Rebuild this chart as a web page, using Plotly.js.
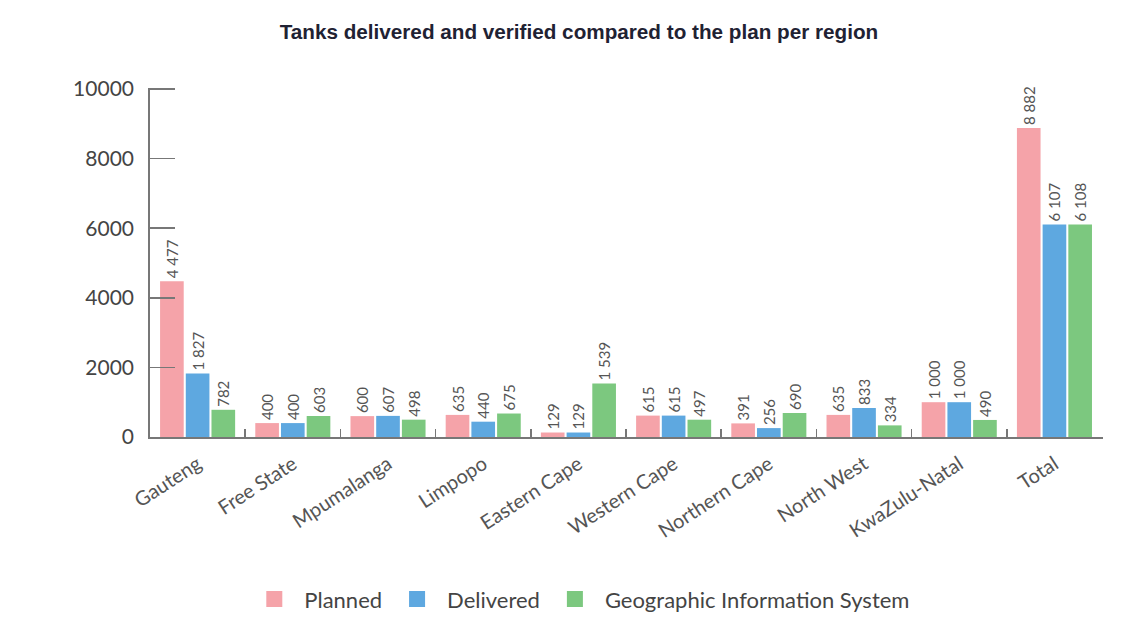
<!DOCTYPE html>
<html>
<head>
<meta charset="utf-8">
<script src="https://cdn.plot.ly/plotly-3.0.1.min.js"></script>
<style>html,body{margin:0;padding:0;background:#fff;}#chart{width:1133px;height:617px;}</style>
</head>
<body>
<div id="chart"></div>
<script>
const categories = ["Gauteng","Free State","Mpumalanga","Limpopo","Eastern Cape","Western Cape","Northern Cape","North West","KwaZulu-Natal","Total"];
const planned = [4477, 400, 600, 635, 129, 615, 391, 635, 1000, 8882];
const delivered = [1827, 400, 607, 440, 129, 615, 256, 833, 1000, 6107];
const gis = [782, 603, 498, 675, 1539, 497, 690, 334, 490, 6108];
const seriesNames = ["Planned", "Delivered", "Geographic Information System"];
const seriesColors = ["#F5A3A9", "#5EA8E0", "#7CC87F"];
const yTicks = [0, 2000, 4000, 6000, 8000, 10000];

function fmt(v) {
  return String(v).replace(/\B(?=(\d{3})+(?!\d))/g, " ");
}

const font = "Lato, 'Open Sans', sans-serif";
const barTraces = [planned, delivered, gis].map((vals, i) => ({
  type: "bar",
  name: seriesNames[i],
  x: categories,
  y: vals,
  text: vals.map(fmt),
  textposition: "outside",
  textangle: -90,
  constraintext: "none",
  cliponaxis: false,
  textfont: {family: font, size: 15, color: "#555"},
  marker: {color: seriesColors[i], line: {width: 0}},
  showlegend: false,
  hoverinfo: "x+y"
}));
// legend entries (square swatches)
const legendTraces = seriesNames.map((n, i) => ({
  type: "scatter", mode: "markers", name: n,
  x: [null], y: [null],
  marker: {symbol: "square", size: 18, color: seriesColors[i]},
  showlegend: true, hoverinfo: "skip"
}));

const layout = {
  width: 1133, height: 617,
  margin: {l: 150, r: 30, t: 88, b: 180, autoexpand: false},
  paper_bgcolor: "#fff", plot_bgcolor: "#fff",
  title: {
    text: "<b>Tanks delivered and verified compared to the plan per region</b>",
    font: {family: "Liberation Sans, Arial, sans-serif", size: 20.7, color: "#1f2233"},
    x: 0.511, xanchor: "center", y: 0.948, yanchor: "middle"
  },
  barmode: "group",
  bargap: 0.19,
  bargroupgap: 0.08,
  showlegend: true,
  legend: {
    orientation: "h", x: 0.451, xanchor: "center",
    yref: "container", y: 0.029, yanchor: "middle",
    font: {family: font, size: 22, color: "#444"},
    itemwidth: 50,
    traceorder: "normal"
  },
  xaxis: {
    type: "category",
    range: [-0.5, 9.51],
    automargin: false,
    tickson: "boundaries",
    ticks: "inside", ticklen: 8, tickwidth: 1.5, tickcolor: "#777",
    showline: true, linecolor: "#777", linewidth: 1.8,
    showgrid: false, zeroline: false,
    tickangle: -33,
    ticklabelstandoff: 6,
    tickfont: {family: font, size: 20, color: "#555"},
    fixedrange: true
  },
  yaxis: {
    range: [0, 10030],
    automargin: false,
    tickvals: yTicks,
    ticktext: yTicks.map(String),
    ticks: "inside", ticklen: 25, tickwidth: 1.5, tickcolor: "#777",
    ticklabelstandoff: 10,
    showline: true, linecolor: "#777", linewidth: 1.8,
    showgrid: false, zeroline: false,
    tickfont: {family: font, size: 21, color: "#444"},
    fixedrange: true
  }
};

Plotly.newPlot("chart", barTraces.concat(legendTraces), layout, {displayModeBar: false, staticPlot: true});
</script>
</body>
</html>
